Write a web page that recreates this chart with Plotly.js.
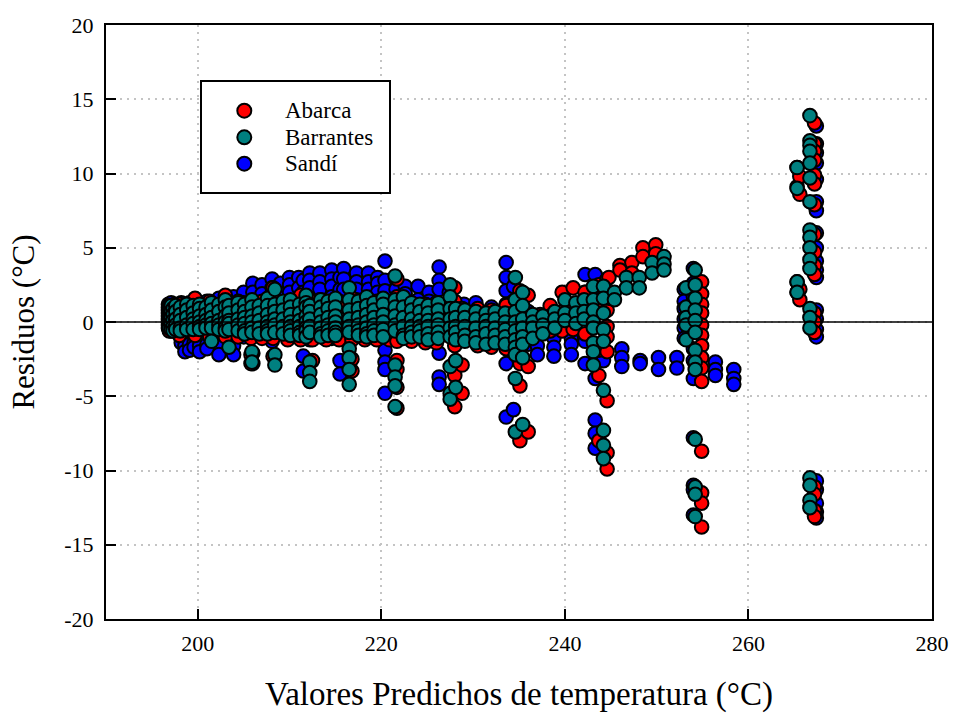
<!DOCTYPE html>
<html>
<head>
<meta charset="utf-8">
<script src="https://cdn.plot.ly/plotly-3.0.1.min.js"></script>
<style>html,body{margin:0;padding:0;background:#fff}</style>
</head>
<body>
<div id="chart" style="width:953px;height:713px"></div>
<script>
// Each row: predicted value, then the residuals read at that predicted value.
const sandiColumns = [
[196.8,1.2,1.0,0.8,0.6,0.4,0.2,0,-0.2,-0.4],
[197.1,1.3,0.9,0.5,0.1,-0.3,-0.6],
[197.5,1.2,0.7,0.2,-0.4],
[198.2,1.3,0.8,-0.9,-1.4],
[198.6,1.1,-1.6,-2.0],
[199.1,1.3,-1.5,-1.9],
[199.6,1.2,0.6,-1.4,-1.7],
[200.2,1.3,0.7,-1.6,-2.0],
[201.0,1.4,0.8,-1.5,-1.8],
[202.3,1.6,0.9,-1.5,-2.2],
[203.9,1.7,1.1,-1.6,-2.2],
[205.0,2.0,1.3,-1.0],
[206.0,2.6,2.0,1.3,-2.1,-2.8],
[207.0,2.5,1.9,1.2,-0.8],
[208.1,2.9,2.3,1.6,-1.3],
[209.0,2.6,1.9,1.2],
[210.0,3.0,2.5,2.0,1.4,-1.0],
[211.0,3.0,2.3,1.6],
[211.5,2.8,2.0,-2.3,-3.3],
[212.2,3.3,2.8,2.3,1.6,-1.2],
[213.3,3.3,2.7,2.2,1.5],
[214.6,3.5,2.9,2.4,1.7,-1.1],
[215.5,3.0,2.2,-2.6,-3.5],
[215.9,3.6,2.9,2.2],
[217.3,3.3,2.7,2.2,1.5],
[218.6,3.3,2.7,2.2,1.6],
[219.6,3.0,2.6,2.0],
[220.4,4.1,2.8,2.1,-1.9,-2.7,-3.2,-4.8],
[221.6,2.9,2.2,1.6],
[222.6,2.4,1.9,1.3],
[224.0,2.4,1.5,-0.9],
[225.2,2.0,1.4],
[226.3,3.7,2.8,2.2,-2.1,-3.7,-4.2],
[227.4,2.0,1.2],
[229.0,1.2,0.8],
[230.3,1.3,0.7,-1.3],
[232.0,1.0,0.6],
[233.6,4.0,3.0,2.1,1.2,-2.8,-6.4],
[234.4,2.4,1.4,-5.9],
[236.0,0.7,-1.5],
[237.0,0.4,-1.6,-2.2],
[238.8,0.6,-1.1,-1.7,-2.3],
[240.7,0.9,-1.1,-1.5,-2.2],
[242.2,3.2,2.0,-1.3,-2.8],
[243.3,3.2,2.3,-1.5,-3.8,-6.6,-7.5,-8.5],
[244.2,2.6,1.4,-2.6],
[246.2,-1.8,-2.4,-3.0],
[248.2,-2.6,-2.8],
[250.2,-2.4,-3.2],
[252.2,-2.4,-3.1],
[253.0,2.2,1.4,0.9,0.2,-0.4,-1.1],
[254.0,3.6,2.6,1.7,0.9,0.2,-0.6,-1.8,-2.6,-3.8,-7.8,-11.0,-11.3,-13.0],
[256.4,-2.7,-3.2,-3.6],
[258.4,-3.2,-3.8,-4.2],
[265.3,10.4,9.1,2.7,2.0],
[267.4,13.2,12.0,11.4,10.7,9.6,8.1,7.5,6.0,5.0,4.1,3.5,3.0,0.8,0.2,-0.5,-1.0,-10.7,-11.3,-12.2,-12.8,-13.2]
];
const abarcaColumns = [
[196.9,1.1,0.7,0.2,-0.3,-0.6],
[198.0,1.2,0.6,-0.9],
[199.7,1.6,0.9,-0.9],
[201.3,1.4,0.9,-1.0],
[203.0,1.8,1.1,-1.0],
[204.4,1.4,1.0,-1.0],
[205.8,1.4,-1.1,-2.2,-2.8],
[207.0,1.4,1.1,-1.1],
[208.2,2.3,1.5,-1.1,-2.3],
[209.8,1.4,1.0,-1.2],
[211.2,1.8,1.2,-1.2],
[212.5,1.4,1.1,-1.2,-2.6],
[214.0,1.3,1.0,-1.2],
[215.4,1.4,1.0,-1.2],
[216.8,1.6,1.2,-1.2,-2.5,-3.3],
[218.2,1.3,0.9,-1.2],
[219.5,1.4,1.0,-1.2],
[220.9,1.3,0.8,-1.2],
[221.7,2.9,1.7,-1.3,-2.6,-3.2,-4.4,-5.8],
[223.3,1.2,0.8,-1.3],
[224.8,1.2,0.7,-1.4],
[226.0,1.3,0.9,-1.4],
[228.0,2.3,1.4,-1.6,-3.6,-5.7],
[228.8,0.9,-2.9,-4.8],
[230.5,0.9,-1.6],
[232.0,0.8,-1.7],
[233.6,1.1,-1.8],
[235.1,2.1,0.8,-2.8,-4.3,-8.0],
[236.0,1.8,0.5,-3.0,-7.4],
[237.3,0.5,-0.7],
[238.4,1.1,0.4,-0.6],
[239.7,2.0,0.7,-0.6],
[240.9,2.3,1.1,-0.5],
[242.2,2.0,0.9,-0.8],
[243.7,2.5,1.3,-1.9,-3.6,-8.0],
[244.6,2.9,0.8,-0.3,-1.0,-2.0,-5.3,-8.8,-9.9],
[244.8,3.0,1.6],
[246.0,3.8,3.5],
[247.3,4.0,3.3],
[248.5,5.0,4.4],
[249.9,5.2,4.6],
[254.9,2.7,1.9,1.2,0.6,-0.2,-0.9,-1.6,-2.4,-3.1,-4.0,-8.7,-11.5,-12.2,-13.8],
[265.6,9.8,8.6,2.2,1.5],
[267.2,13.4,12.0,11.5,10.9,9.9,9.3,7.9,5.9,4.7,3.8,3.2,0.6,0,-0.7,-11.1,-11.6,-12.7,-13.1]
];
const barrantesColumns = [
[196.9,1.0,0.8,0.6,0.4,0.2,0,-0.2,-0.4],
[197.1,1.1,0.7,0.3,-0.1,-0.5],
[197.3,0.9,0.5,0.1,-0.3,-0.6],
[197.6,1.1,0.7,0.2,-0.2,-0.5],
[198.1,1.0,0.5,0.1,-0.4,-0.6],
[198.8,1.2,0.8,0.3,-0.2,-0.5],
[199.5,1.1,0.6,0.2,-0.1,-0.5],
[200.2,1.2,0.9,0.4,0,-0.3,-0.5],
[200.9,1.0,0.5,0.1,-0.2,-0.4],
[201.5,1.3,0.8,0.3,-0.1,-0.4,-1.3],
[202.3,1.2,0.7,0.1,-0.2,-0.5],
[203.0,1.5,1.0,0.4,0,-0.4,-0.6],
[203.4,1.1,0.6,0.1,-0.1,-0.5,-1.7],
[204.4,1.3,0.8,0.2,-0.2,-0.6],
[205.1,1.2,0.7,0.3,-0.1,-0.6,-0.8],
[205.9,1.5,1.0,0.4,0,-0.4,-0.7,-2.0,-2.7],
[206.7,1.1,0.6,0.1,-0.4,-0.8],
[207.6,1.6,1.1,0.5,0,-0.3,-0.6,-0.8],
[208.4,2.2,1.2,0.7,0.2,-0.2,-0.7,-2.2,-2.9],
[209.3,1.4,0.8,0.2,-0.3,-0.8],
[210.1,1.5,1.0,0.5,0,-0.3,-0.6,-0.9],
[211.1,1.2,0.6,0.1,-0.3,-0.7,-0.9],
[211.8,1.8,1.3,1.0,0.4,0,-0.4,-0.6,-1.0],
[212.2,1.1,0.7,0.2,-0.3,-0.7,-2.7,-3.4,-4.0],
[213.4,1.5,1.0,0.5,0,-0.4,-0.8,-1.0],
[214.2,1.4,0.9,0.3,-0.2,-0.6,-0.9],
[215.0,1.6,1.0,0.4,0,-0.4,-0.7,-0.9],
[216.5,2.3,1.5,0.8,0.2,-0.3,-0.7,-1.8,-2.4,-3.2,-4.2],
[217.5,1.4,0.9,0.3,-0.2,-0.6,-0.9],
[218.4,1.7,1.1,0.5,0,-0.4,-0.8,-1.0],
[219.2,1.3,0.8,0.3,-0.2,-0.6,-0.9],
[220.2,1.6,1.2,0.5,0,-0.5,-1.0],
[221.5,3.1,1.5,1.0,0.4,-0.2,-0.6,-2.9,-3.7,-4.3,-5.7],
[222.4,1.7,1.0,0.3,-0.3,-0.9,-1.1],
[223.3,1.3,0.8,0.2,-0.3,-0.7,-1.0],
[224.2,1.2,0.7,0.1,-0.3,-0.6,-1.0],
[225.1,1.1,0.6,0.1,-0.3,-0.8,-1.2],
[226.2,1.3,0.8,0.2,-0.2,-0.7,-1.1],
[227.5,2.5,1.7,0.9,0.2,-0.4,-1.0,-3.0,-4.8,-5.2],
[228.1,0.9,0.3,-0.3,-0.7,-1.2,-2.6,-4.4],
[229.1,0.8,0.3,-0.3,-0.9,-1.3],
[230.3,0.7,0.2,-0.4,-1.0,-1.4],
[231.4,0.6,0.1,-0.3,-0.8,-1.5],
[232.4,0.7,0.2,-0.4,-0.9,-1.4],
[233.5,0.6,0,-0.5,-1.0,-1.5],
[234.6,3.0,1.5,0.7,0,-0.6,-1.2,-1.7,-2.2,-3.8,-7.4],
[235.4,2.0,1.1,0.2,-0.4,-1.0,-1.5,-2.4,-6.9],
[236.5,0.5,0,-0.4,-1.1],
[237.6,0.4,-0.2,-0.8],
[238.9,0.7,0.2,-0.4],
[240.0,1.5,0.6,0.1],
[241.2,1.3,0.6,-0.1],
[242.1,1.5,0.7,0.2],
[243.1,2.4,1.5,0.8,0,-0.4,-1.4,-2.0,-2.9],
[244.2,2.4,1.6,0.6,-0.5,-1.3,-4.6,-7.3,-8.3,-9.2],
[245.4,2.0,1.5],
[246.7,3.0,2.3],
[248.1,3.0,2.3],
[249.5,4.0,3.3],
[250.8,4.4,3.9,3.5],
[253.2,2.3,1.0,0.3,-0.2,-1.2],
[254.2,3.5,2.5,1.6,0.8,0.1,-0.7,-1.9,-2.7,-3.2,-7.9,-11.1,-11.6,-13.1],
[265.3,10.4,9.0,2.7,2.0],
[266.7,13.9,12.2,11.9,11.5,10.7,9.7,8.1,6.2,5.7,5.0,4.2,3.6,0.9,0.3,-0.4,-10.5,-11.0,-12.0,-12.5]
];
const xTicks = [200,220,240,260,280];
const yTicks = [-20,-15,-10,-5,0,5,10,15,20];
const seriesNames = ['Sandí','Abarca','Barrantes'];
const seriesColors = ['#0000ff','#ff0000','#008080'];
const legendOrder = [1,2,0];

function flatten(columns){
  const x=[],y=[];
  columns.forEach(c=>{c.slice(1).forEach(v=>{x.push(c[0]);y.push(v);});});
  return {x,y};
}
const traces=[sandiColumns,abarcaColumns,barrantesColumns].map((cols,i)=>{
  const p=flatten(cols);
  return {type:'scatter',mode:'markers',x:p.x,y:p.y,name:seriesNames[i],showlegend:false,
    marker:{color:seriesColors[i],size:13.6,line:{color:'#000',width:2}}};
});
const serif='"Liberation Serif","Times New Roman",serif';
const W=953,H=713,L=106,R=21,T=25,B=94;
const px=v=>(v-L)/(W-L-R), py=v=>(H-B-v)/(H-T-B);
const axisBase={showline:true,linecolor:'#000',linewidth:2,mirror:true,ticks:'inside',ticklen:10,tickwidth:2,tickcolor:'#000',
  showgrid:true,gridcolor:'#c4c4c4',griddash:'2px,5px',gridwidth:2,zeroline:false,tickfont:{family:serif,size:22,color:'#000'}};
const shapes=[
  {type:'rect',xref:'paper',yref:'paper',x0:px(201),x1:px(390),y0:py(193),y1:py(81),fillcolor:'#fff',line:{color:'#000',width:2},layer:'above'},
  {type:'line',xref:'paper',yref:'y',x0:0,x1:1,y0:0,y1:0,line:{color:'#000',width:1.5},layer:'above'}
];
const annotations=[];
const legendRows=[110.7,137.3,163.7];
legendOrder.forEach((s,i)=>{
  const cy=legendRows[i];
  shapes.push({type:'circle',xref:'paper',yref:'paper',x0:px(244.3-7),x1:px(244.3+7),y0:py(cy+7),y1:py(cy-7),
    fillcolor:seriesColors[s],line:{color:'#000',width:2},layer:'above'});
  annotations.push({xref:'paper',yref:'paper',x:px(284),y:py(cy),xanchor:'left',yanchor:'middle',showarrow:false,borderpad:0,
    text:seriesNames[s],font:{family:serif,size:23,color:'#000'}});
});
const layout={
  width:W,height:H,autosize:false,
  margin:{l:L,r:R,t:T,b:B},
  paper_bgcolor:'#fff',plot_bgcolor:'#fff',showlegend:false,
  xaxis:Object.assign({},axisBase,{range:[190,280],tickmode:'array',tickvals:xTicks,ticktext:xTicks.map(String),ticklabelstandoff:4,
    title:{text:'Valores Predichos de temperatura (°C)',font:{family:serif,size:33,color:'#000'},standoff:30}}),
  yaxis:Object.assign({},axisBase,{range:[-20,20],tickmode:'array',tickvals:yTicks,ticktext:yTicks.map(String),ticklabelstandoff:6,
    title:{text:'Residuos (°C)',font:{family:serif,size:31,color:'#000'},standoff:20}}),
  shapes,annotations
};
Plotly.newPlot('chart',traces,layout,{displayModeBar:false,responsive:false,staticPlot:true});
</script>
</body>
</html>
